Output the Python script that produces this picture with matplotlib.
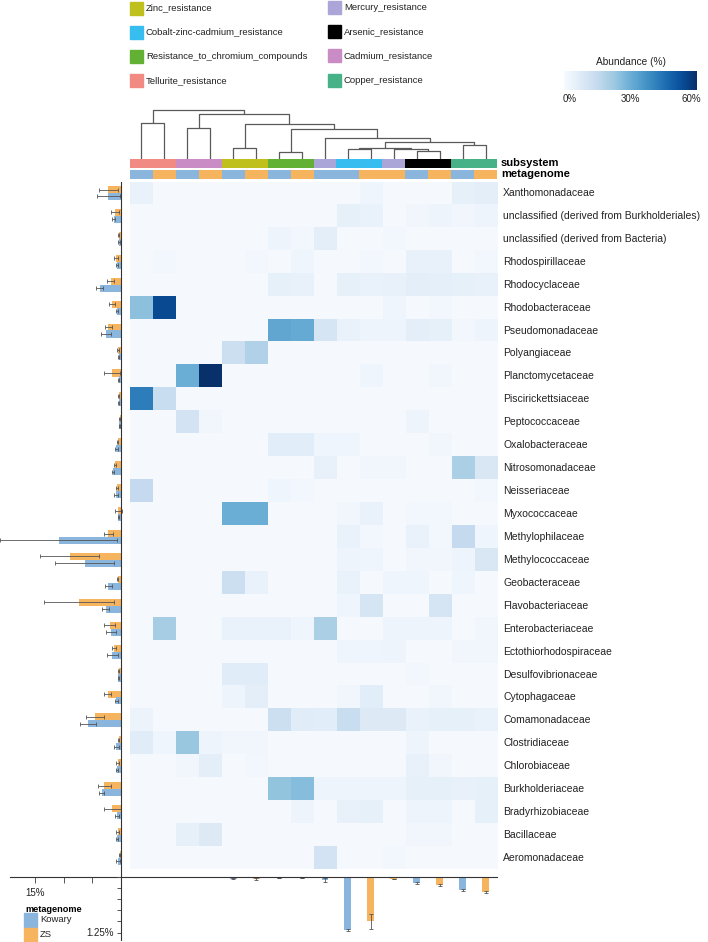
import numpy as np
import matplotlib
matplotlib.use("Agg")
import matplotlib.pyplot as plt
from matplotlib.lines import Line2D
from matplotlib.patches import Rectangle

plt.rcParams['font.family'] = ['Liberation Sans', 'DejaVu Sans']

# ---------------- data ----------------
families = ["Xanthomonadaceae", "unclassified (derived from Burkholderiales)",
            "unclassified (derived from Bacteria)", "Rhodospirillaceae", "Rhodocyclaceae",
            "Rhodobacteraceae", "Pseudomonadaceae", "Polyangiaceae", "Planctomycetaceae",
            "Piscirickettsiaceae", "Peptococcaceae", "Oxalobacteraceae", "Nitrosomonadaceae",
            "Neisseriaceae", "Myxococcaceae", "Methylophilaceae", "Methylococcaceae",
            "Geobacteraceae", "Flavobacteriaceae", "Enterobacteriaceae",
            "Ectothiorhodospiraceae", "Desulfovibrionaceae", "Cytophagaceae",
            "Comamonadaceae", "Clostridiaceae", "Chlorobiaceae", "Burkholderiaceae",
            "Bradyrhizobiaceae", "Bacillaceae", "Aeromonadaceae"]

col_subsystem = ["Tellurite_resistance", "Tellurite_resistance",
                 "Cadmium_resistance", "Cadmium_resistance",
                 "Zinc_resistance", "Zinc_resistance",
                 "Resistance_to_chromium_compounds", "Resistance_to_chromium_compounds",
                 "Mercury_resistance", "Cobalt-zinc-cadmium_resistance",
                 "Cobalt-zinc-cadmium_resistance", "Mercury_resistance",
                 "Arsenic_resistance", "Arsenic_resistance",
                 "Copper_resistance", "Copper_resistance"]
col_metagenome = ["Kowary", "ZS", "Kowary", "ZS", "Kowary", "ZS", "Kowary", "ZS",
                  "Kowary", "Kowary", "ZS", "ZS", "Kowary", "ZS", "Kowary", "ZS"]

legend_left = ["Zinc_resistance", "Cobalt-zinc-cadmium_resistance",
               "Resistance_to_chromium_compounds", "Tellurite_resistance"]
legend_right = ["Mercury_resistance", "Arsenic_resistance", "Cadmium_resistance",
                "Copper_resistance"]

subsystem_colors = {
    "Zinc_resistance": "#bfc01c",
    "Cobalt-zinc-cadmium_resistance": "#38bdf0",
    "Resistance_to_chromium_compounds": "#62b034",
    "Tellurite_resistance": "#f08a83",
    "Mercury_resistance": "#aaa7d8",
    "Arsenic_resistance": "#000000",
    "Cadmium_resistance": "#c98cc5",
    "Copper_resistance": "#47b287",
}
meta_colors = {"Kowary": "#8ab5dc", "ZS": "#f6b45f"}

# abundance (%) heat values, rows = families, cols = 16 subsystem/metagenome columns
abund = [
    [4, .6, .6, .6, .6, .6, .6, .6, .6, .6, 2.5, .6, .6, .6, 5, 6],
    [.6, .6, .6, .6, .6, .6, .6, .6, .6, 5, 4, .6, 2, 3, 2, 3],
    [.6, .6, .6, .6, .6, .6, 3, 1.5, 6, .6, .6, 1.5, .6, .6, .6, .6],
    [.6, 1.5, .6, .6, .6, 1.5, .6, 2.5, .6, .6, 1.5, .6, 4.5, 4.5, .6, 1.5],
    [.6, .6, .6, .6, .6, .6, 5, 4.5, .6, 5, 4, 4.5, 6, 5.5, 5, 4.5],
    [25, 54, .6, .6, .6, .6, .6, .6, .6, .6, .6, 2.5, .6, 1.5, .6, .6],
    [.6, .6, .6, .6, .6, .6, 32, 31, 10, 4, 3, 3, 6, 5, 1.5, 3],
    [.6, .6, .6, .6, 13, 19, .6, .6, .6, .6, .6, .6, .6, .6, .6, .6],
    [.6, .6, 30, 62, .6, .6, .6, .6, .6, .6, 2.5, .6, .6, 2, .6, .6],
    [42, 14, .6, .6, .6, .6, .6, .6, .6, .6, .6, .6, .6, .6, .6, .6],
    [.6, .6, 11, 2, .6, .6, .6, .6, .6, .6, .6, .6, 3, .6, .6, .6],
    [.6, .6, .6, .6, .6, .6, 6.5, 6.5, 2.5, 2.5, .6, .6, .6, 2, .6, .6],
    [.6, .6, .6, .6, .6, .6, .6, .6, 4.5, .6, 2, 2, .6, .6, 20, 9],
    [15, .6, .6, .6, .6, .6, 2.5, 1.5, .6, .6, .6, .6, .6, .6, .6, 1.5],
    [.6, .6, .6, .6, 30, 30, .6, .6, .6, 2, 4, .6, 1.5, 1.5, .6, .6],
    [.6, .6, .6, .6, .6, .6, .6, .6, .6, 4, 1.5, .6, 4, 1.5, 15, 2.5],
    [.6, .6, .6, .6, .6, .6, .6, .6, .6, 3, 2.5, .6, 2, 2, 3, 9],
    [.6, .6, .6, .6, 13, 4, .6, .6, .6, 4, .6, 2.5, 2.5, .6, 2.5, .6],
    [.6, .6, .6, .6, .6, .6, .6, .6, .6, 2.5, 10, .6, .6, 10, .6, .6],
    [.6, 21, .6, .6, 4, 4, 4, 2.5, 20, .6, .6, 3, 3, 3, .6, 2],
    [.6, .6, .6, .6, .6, .6, .6, .6, .6, 2.5, 2.5, 3, .6, .6, 2, 2],
    [.6, .6, .6, .6, 7, 7, .6, .6, .6, .6, .6, .6, 1.5, .6, .6, .6],
    [.6, .6, .6, .6, 3, 6, .6, .6, .6, 2, 6.5, .6, .6, 2, .6, .6],
    [3.5, .6, .6, .6, .6, .6, 13, 7, 6.5, 14, 7.5, 7.5, 4, 5, 5, 4],
    [7, 2.5, 23, 3, 2, 2, .6, .6, .6, .6, .6, .6, 3, .6, .6, .6],
    [.6, .6, 2, 6, .6, 1.5, .6, .6, .6, .6, .6, .6, 4.5, 2, .6, .6],
    [.6, .6, .6, .6, .6, .6, 24, 26, 3, 3, 3, 3, 5, 5, 4.5, 5],
    [.6, .6, .6, .6, .6, .6, .6, 3, .6, 4.5, 5, .6, 3, 3, .6, 5],
    [.6, .6, 5, 7.5, .6, .6, .6, .6, .6, .6, .6, .6, 2, 2, .6, .6],
    [.6, .6, .6, .6, .6, .6, .6, .6, 11, .6, .6, 1.5, .6, .6, .6, .6],
]

# family abundance per metagenome (left bars, %)
zs_mean = [2.2, 1.1, 0.4, 0.9, 1.8, 1.6, 2.2, 0.5, 1.5, 0.4, 0.25, 0.6, 1.1, 0.7, 0.5,
           2.2, 9.0, 0.6, 7.4, 2.0, 1.2, 0.4, 2.3, 4.5, 0.4, 0.6, 2.9, 1.5, 0.6, 0.2]
zs_err = [1.6, 0.7, 0.1, 0.3, 0.6, 0.5, 0.6, 0.15, 1.4, 0.1, 0.05, 0.1, 0.2, 0.15, 0.6,
          0.8, 5.1, 0.15, 6.1, 1.0, 0.4, 0.1, 0.6, 1.6, 0.1, 0.2, 1.1, 1.5, 0.2, 0.1]
kow_mean = [2.2, 1.3, 0.36, 0.7, 3.7, 0.7, 2.6, 0.4, 0.4, 0.4, 0.3, 0.8, 1.4, 0.9, 0.5,
            10.9, 6.35, 2.2, 2.7, 1.8, 1.5, 0.45, 0.8, 5.8, 0.8, 0.7, 3.4, 0.7, 0.7, 0.5]
kow_err = [2.0, 0.3, 0.1, 0.2, 0.6, 0.1, 0.9, 0.1, 0.1, 0.1, 0.1, 0.3, 0.2, 0.3, 0.1,
           10.2, 5.1, 0.6, 0.6, 0.9, 1.0, 0.1, 0.2, 1.4, 0.4, 0.2, 0.4, 0.3, 0.2, 0.3]

# subsystem abundance per column (bottom bars, %)
col_mean = [0.005, 0.01, 0.01, 0.01, 0.04, 0.04, 0.03, 0.03, 0.07, 1.19, 1.0, 0.05,
            0.14, 0.18, 0.29, 0.33]
col_err = [0.0, 0.0, 0.0, 0.0, 0.01, 0.02, 0.0, 0.0, 0.04, 0.02, 0.16, 0.0,
           0.02, 0.02, 0.02, 0.02]

# dendrogram merges: (left node, right node, height); node 16+k = k-th merge
merges = [(0, 1, 35.2), (2, 3, 30.2), (4, 5, 10.2), (6, 7, 6.2), (9, 10, 9.2),
          (12, 13, 7.5), (11, 21, 10.0), (20, 22, 11.0), (14, 15, 13.8), (23, 24, 16.5),
          (8, 25, 20.5), (19, 26, 29.2), (18, 27, 34.2), (17, 28, 44.5), (16, 29, 48.5)]

# ---------------- layout ----------------
W, H = 708, 942
fig = plt.figure(figsize=(W / 100, H / 100), dpi=100)


def ax_px(x0, y0, x1, y1):
    return fig.add_axes([x0 / W, 1 - y1 / H, (x1 - x0) / W, (y1 - y0) / H])


HX0, HX1 = 130, 497
HY0, HY1 = 181.5, 869.5
nrow, ncol = len(families), len(col_subsystem)
rowh = (HY1 - HY0) / nrow
colw = (HX1 - HX0) / ncol
TXT = "#222222"

# heatmap
axh = ax_px(HX0, HY0, HX1, HY1)
axh.imshow(np.array(abund), cmap="Blues", vmin=0, vmax=60, aspect="auto",
           interpolation="nearest")
axh.set_xlim(-0.5, ncol - 0.5)
axh.set_ylim(nrow - 0.5, -0.5)
axh.axis("off")
for i, name in enumerate(families):
    axh.text(ncol - 0.5 + 6 / colw, i, name, fontsize=7.5, va="center", ha="left",
             color=TXT)

# subsystem / metagenome bars
axs = ax_px(HX0, 159.3, HX1, 167.7)
for j, s in enumerate(col_subsystem):
    axs.add_patch(Rectangle((j - 0.5, 0), 1, 1, color=subsystem_colors[s], lw=0))
axs.set_xlim(-0.5, ncol - 0.5); axs.set_ylim(0, 1); axs.axis("off")
axs.text(ncol - 0.5 + 4 / colw, 0.5, "subsystem", fontsize=8, fontweight="bold",
         va="center", ha="left")
axm = ax_px(HX0, 170, HX1, 178.5)
for j, m in enumerate(col_metagenome):
    axm.add_patch(Rectangle((j - 0.5, 0), 1, 1, color=meta_colors[m], lw=0))
axm.set_xlim(-0.5, ncol - 0.5); axm.set_ylim(0, 1); axm.axis("off")
axm.text(ncol - 0.5 + 4 / colw, 0.5, "metagenome", fontsize=8, fontweight="bold",
         va="center", ha="left")

# dendrogram
axd = ax_px(HX0, 108, HX1, 158.5)
axd.set_xlim(-0.5, ncol - 0.5); axd.set_ylim(0, 50.5); axd.axis("off")
pos = {i: (float(i), 0.0) for i in range(ncol)}
for k, (a, b, h) in enumerate(merges):
    xa, ha_ = pos[a]
    xb, hb = pos[b]
    axd.plot([xa, xa, xb, xb], [ha_, h, h, hb], color="#5a5a5a", lw=0.9,
             solid_capstyle="butt")
    pos[ncol + k] = ((xa + xb) / 2, h)

# left bar chart
LY1 = 877
axl = ax_px(10, HY0, 121, LY1)
ext = (LY1 - HY1) / rowh
y = np.arange(nrow)
ekw = dict(ecolor="#555555", elinewidth=0.6, capsize=1.3, capthick=0.6)
axl.barh(y - 0.15, zs_mean, height=0.31, color=meta_colors["ZS"], xerr=zs_err,
         error_kw=ekw)
axl.barh(y + 0.15, kow_mean, height=0.31, color=meta_colors["Kowary"], xerr=kow_err,
         error_kw=ekw)
axl.set_ylim(nrow - 0.5 + ext, -0.5)
axl.set_xlim(19.4, 0)
for ln in axl.get_children():
    if hasattr(ln, "set_clip_on"):
        ln.set_clip_on(False)
axl.spines["top"].set_visible(False)
axl.spines["left"].set_visible(False)
for sp in ("bottom", "right"):
    axl.spines[sp].set_color("#333333"); axl.spines[sp].set_linewidth(0.8)
axl.set_yticks([])
axl.set_xticks([5, 10, 15])
axl.set_xticklabels(["", "", "15%"])
axl.tick_params(axis="x", direction="out", length=4, width=0.7, color="#555555",
                labelsize=7, pad=4, labelcolor=TXT)

# bottom bar chart
axb = ax_px(121, LY1, HX1, 940)
x0 = -0.5 - (HX0 - 121) / colw
cols = np.arange(ncol)
bcolors = [meta_colors[m] for m in col_metagenome]
axb.bar(cols, col_mean, width=0.3, color=bcolors, yerr=col_err,
        error_kw=dict(ecolor="#555555", elinewidth=0.6, capsize=1.3, capthick=0.6))
axb.set_xlim(x0, ncol - 0.5)
axb.set_ylim((940 - LY1) / 44.4, 0)
axb.spines["right"].set_visible(False)
axb.spines["bottom"].set_visible(False)
for sp in ("top", "left"):
    axb.spines[sp].set_color("#333333"); axb.spines[sp].set_linewidth(0.8)
axb.set_xticks([])
axb.set_yticks([0, 0.25, 0.5, 0.75, 1.0, 1.25])
axb.set_yticklabels(["", "", "", "", "", "1.25%"])
axb.tick_params(axis="y", direction="out", length=3, width=0.7, color="#555555",
                labelsize=7, pad=2, labelcolor=TXT)

# top legend for subsystems
for k, name in enumerate(legend_left):
    yc = 8 + k * 24.2
    fig.patches.append(Rectangle((130 / W, 1 - (yc + 6.5) / H), 13 / W, 13 / H,
                                 transform=fig.transFigure, color=subsystem_colors[name]))
    fig.text(146 / W, 1 - yc / H, name, fontsize=6.8, va="center", ha="left", color=TXT)
for k, name in enumerate(legend_right):
    yc = 7 + k * 24.4
    fig.patches.append(Rectangle((328 / W, 1 - (yc + 6.5) / H), 13 / W, 13 / H,
                                 transform=fig.transFigure, color=subsystem_colors[name]))
    fig.text(344 / W, 1 - yc / H, name, fontsize=6.8, va="center", ha="left", color=TXT)

# colorbar
axc = ax_px(564, 71, 697, 90)
grad = np.linspace(0, 60, 256).reshape(1, -1)
axc.imshow(grad, cmap="Blues", vmin=0, vmax=60, aspect="auto",
           extent=[0, 60, 0, 1])
axc.set_xlim(0, 60)
axc.set_yticks([])
axc.set_xticks([2.5, 30, 57.5])
axc.set_xticklabels(["0%", "30%", "60%"])
axc.tick_params(axis="x", length=0, labelsize=7, pad=3, labelcolor=TXT)
for sp in axc.spines.values():
    sp.set_visible(False)
fig.text(631 / W, 1 - 62 / H, "Abundance (%)", fontsize=7.3, ha="center", va="center",
         color=TXT)

# bottom-left legend for metagenome
fig.text(25 / W, 1 - 909 / H, "metagenome", fontsize=6.6, fontweight="bold",
         va="center", ha="left")
for k, m in enumerate(["Kowary", "ZS"]):
    yc = 920 + k * 14.5
    fig.patches.append(Rectangle((24 / W, 1 - (yc + 7) / H), 13 / W, 14 / H,
                                 transform=fig.transFigure, color=meta_colors[m]))
    fig.text(40 / W, 1 - yc / H, m, fontsize=6.8, va="center", ha="left", color=TXT)

fig.savefig("out.png", dpi=100)
